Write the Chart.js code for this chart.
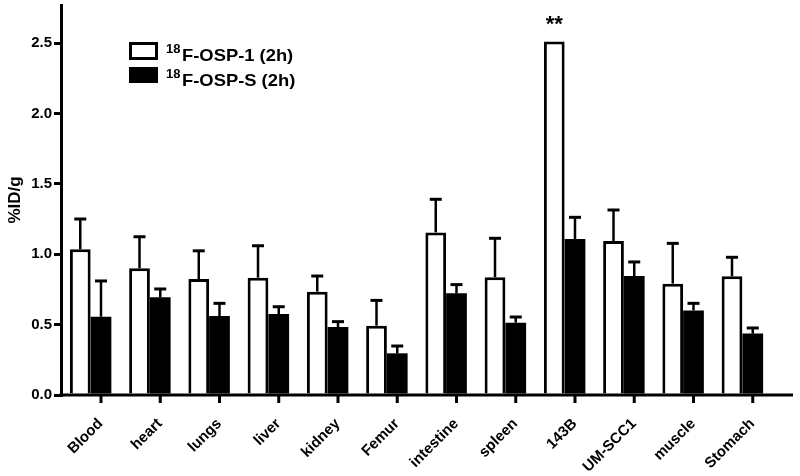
<!DOCTYPE html>
<html>
<head>
<meta charset="utf-8">
<script src="https://cdn.jsdelivr.net/npm/chart.js@4.4.1/dist/chart.umd.min.js"></script>
<style>
  html, body { margin: 0; padding: 0; background: #fff; }
</style>
</head>
<body>
<canvas id="biodistChart" width="800" height="476"></canvas>
<script>
// biodistribution at 2h, mean + SEM (upper error bar only)
const organs = ["Blood", "heart", "lungs", "liver", "kidney", "Femur",
  "intestine", "spleen", "143B", "UM-SCC1", "muscle", "Stomach"];
const osp1Mean = [1.035, 0.90, 0.824, 0.833, 0.734, 0.492, 1.155, 0.836, 2.51, 1.094, 0.791, 0.843];
const osp1Sem = [0.215, 0.224, 0.20, 0.227, 0.111, 0.18, 0.235, 0.277, 0, 0.22, 0.286, 0.135];
const ospSMean = [0.556, 0.694, 0.561, 0.575, 0.483, 0.296, 0.722, 0.514, 1.108, 0.845, 0.601, 0.436];
const ospSSem = [0.254, 0.059, 0.09, 0.052, 0.038, 0.052, 0.062, 0.04, 0.154, 0.10, 0.05, 0.04];
const yTicks = [0, 0.5, 1.0, 1.5, 2.0, 2.5];
const seriesIsotope = ["18", "18"];
const seriesNames = ["F-OSP-1 (2h)", "F-OSP-S (2h)"];
const starLabel = "**";
const starIndex = 8;

const FONT = "'Liberation Sans', Arial, sans-serif";

const extras = {
  id: "extras",
  afterDatasetsDraw(chart) {
    const ctx = chart.ctx;
    const y = chart.scales.y;
    const area = chart.chartArea;
    const y0 = y.getPixelForValue(0);
    ctx.save();
    ctx.strokeStyle = "#000";
    ctx.fillStyle = "#000";

    // error bars
    [[osp1Mean, osp1Sem], [ospSMean, ospSSem]].forEach(([means, sem], di) => {
      chart.getDatasetMeta(di).data.forEach((bar, i) => {
        if (!sem[i]) return;
        const top = y.getPixelForValue(means[i] + sem[i]);
        ctx.lineWidth = 2.5;
        ctx.beginPath();
        ctx.moveTo(bar.x, bar.y);
        ctx.lineTo(bar.x, top);
        ctx.stroke();
        ctx.lineWidth = 3;
        ctx.beginPath();
        ctx.moveTo(bar.x - 6, top);
        ctx.lineTo(bar.x + 6, top);
        ctx.stroke();
      });
    });

    // x axis line and tick marks (ticks sit under the second bar)
    ctx.lineWidth = 3;
    ctx.beginPath();
    ctx.moveTo(area.left - 1.5, y0);
    ctx.lineTo(area.right + 21, y0);
    ctx.stroke();
    chart.getDatasetMeta(1).data.forEach(bar => {
      ctx.beginPath();
      ctx.moveTo(bar.x, y0);
      ctx.lineTo(bar.x, y0 + 8);
      ctx.stroke();
    });

    // significance stars
    const starBar = chart.getDatasetMeta(0).data[starIndex];
    ctx.font = "bold 22px " + FONT;
    ctx.textAlign = "center";
    ctx.textBaseline = "alphabetic";
    ctx.fillText(starLabel, starBar.x, starBar.y - 11);

    // legend (text a little wider than the font, like the original)
    ctx.textAlign = "left";
    const rows = [50, 75];
    rows.forEach((cy, i) => {
      if (i === 0) {
        ctx.lineWidth = 3;
        ctx.strokeRect(130.5, cy - 6.5, 26, 15);
      } else {
        ctx.fillRect(129, cy - 8, 29, 16);
      }
      ctx.save();
      ctx.translate(166, cy + 11);
      ctx.scale(1.08, 1);
      ctx.font = "bold 12px " + FONT;
      ctx.fillText(seriesIsotope[i], 0, -8);
      const w = ctx.measureText(seriesIsotope[i]).width;
      ctx.font = "bold 17px " + FONT;
      ctx.fillText(seriesNames[i], w + 1.5, 0);
      ctx.restore();
    });
    ctx.restore();
  }
};

const ctx = document.getElementById("biodistChart").getContext("2d");
new Chart(ctx, {
  type: "bar",
  data: {
    labels: organs,
    datasets: [
      {
        label: seriesIsotope[0] + seriesNames[0],
        data: osp1Mean,
        backgroundColor: "#fff",
        borderColor: "#000",
        borderWidth: 3,
        borderSkipped: "start",
        categoryPercentage: 0.7,
        barPercentage: 1.0,
      },
      {
        label: seriesIsotope[1] + seriesNames[1],
        data: ospSMean,
        backgroundColor: "#000",
        borderColor: "#000",
        borderWidth: 0,
        categoryPercentage: 0.7,
        barPercentage: 1.0,
      },
    ],
  },
  options: {
    responsive: false,
    animation: false,
    events: [],
    layout: { padding: { top: 5, right: 28, left: 0, bottom: 0 } },
    plugins: {
      legend: { display: false },
      tooltip: { enabled: false },
    },
    scales: {
      x: {
        grid: { display: false },
        border: { display: false },
        ticks: {
          color: "#000",
          font: { family: FONT, weight: "bold", size: 15 },
          minRotation: 45,
          maxRotation: 45,
          autoSkip: false,
          labelOffset: 10,
          padding: 12,
        },
        afterFit(scale) {
          scale.height = 81;
          scale.paddingLeft = 0;
          scale.paddingRight = 0;
        },
      },
      y: {
        min: 0,
        max: 2.77,
        afterBuildTicks(scale) {
          scale.ticks = yTicks.map(v => ({ value: v }));
        },
        grid: {
          drawOnChartArea: false,
          drawTicks: true,
          tickLength: 7,
          lineWidth: 3,
          color: "#000",
        },
        border: { display: true, color: "#000", width: 3 },
        ticks: {
          color: "#000",
          padding: 2,
          font: { family: FONT, weight: "bold", size: 15 },
          callback: v => Number(v).toFixed(1),
        },
        title: {
          display: true,
          text: "%ID/g",
          color: "#000",
          font: { family: FONT, weight: "bold", size: 17 },
          padding: { top: 5, bottom: 0 },
        },
        afterFit(scale) {
          scale.width = 61;
          scale.paddingTop = 0;
          scale.paddingBottom = 0;
        },
      },
    },
  },
  plugins: [extras],
});
</script>
</body>
</html>
